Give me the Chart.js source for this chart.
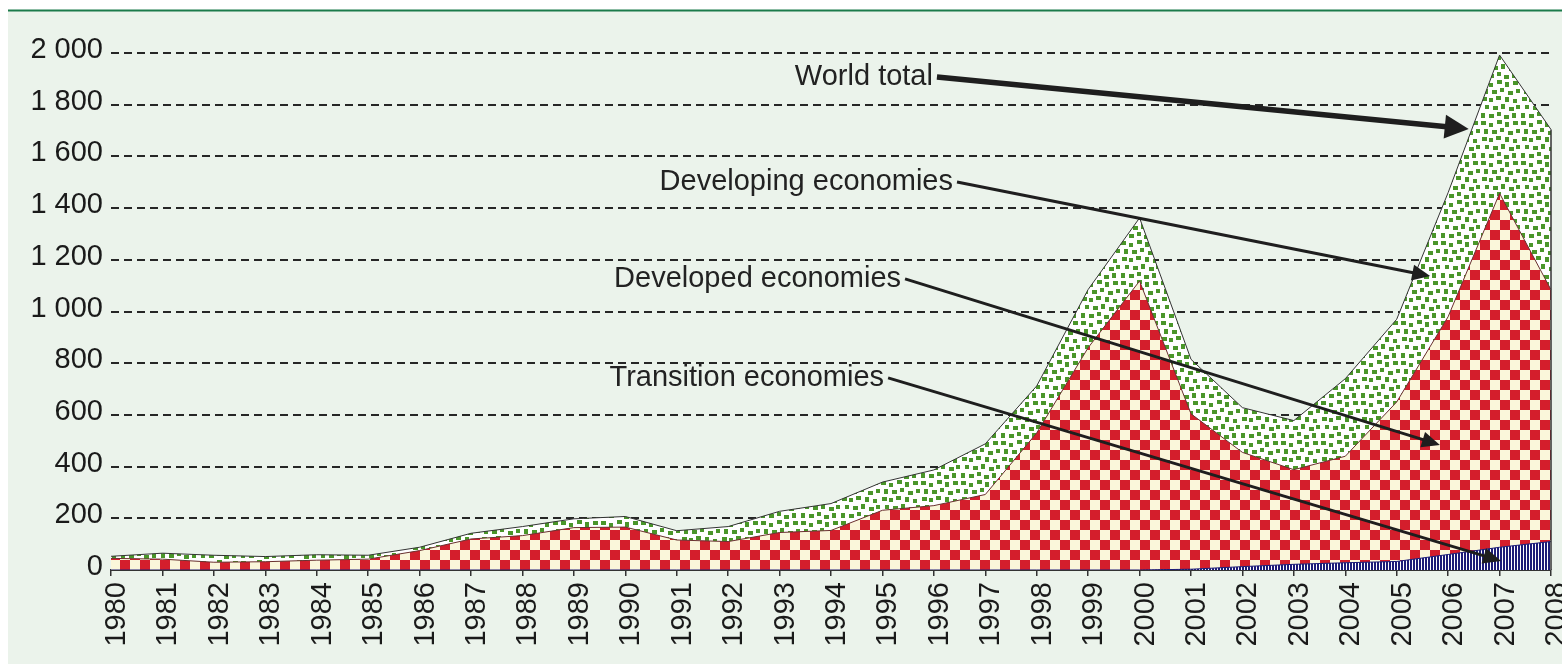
<!DOCTYPE html>
<html><head><meta charset="utf-8">
<script src="https://cdn.jsdelivr.net/npm/chart.js@4/dist/chart.umd.min.js"></script>
<style>html,body{margin:0;padding:0;background:#fff;}#wrap{width:1562px;height:664px;position:relative}</style>
</head><body><div id="wrap"><canvas id="c" width="1562" height="664"></canvas></div>
<script>
const years = ['1980','1981','1982','1983','1984','1985','1986','1987','1988','1989','1990','1991','1992','1993','1994','1995','1996','1997','1998','1999','2000','2001','2002','2003','2004','2005','2006','2007','2008'];
const transition = [0,0,0,0,0,0,0,0,0,0,0,0,0,0,0,0,0,0,0,0,0,3,13,22,28,33,60,88,110];
const developed  = [45,42,30,32,38,42,75,120,133,164,166,116,110,145,153,231,249,292,530,860,1118,601,442,366,412,617,920,1369,974];
const developing = [8,23,27,20,21,15,13,22,35,34,41,36,58,82,104,109,138,196,182,225,244,211,173,190,300,320,480,535,620];
const seriesNames = ['Transition economies','Developed economies','Developing economies'];

const annotationLabels = ['World total','Developing economies','Developed economies','Transition economies'];
const annotationFrom = [[16.06,1907],[16.45,1501],[15.44,1126],[15.11,743]];
const annotationTo   = [[26.40,1706],[25.65,1137],[25.84,484],[27.03,35]];

function makeTile(w,h,draw){const c=document.createElement('canvas');c.width=w;c.height=h;draw(c.getContext('2d'));return c;}
const ctx0 = document.getElementById('c').getContext('2d');
const checker = ctx0.createPattern(makeTile(20,20,g=>{g.fillStyle='#FAF6DA';g.fillRect(0,0,20,20);g.fillStyle='#D41E2C';g.fillRect(0,0,10,10);g.fillRect(10,10,10,10);}),'repeat');
const dots = [
  [1,1,5,4],[9,3,4,4],[17,0,5,4],[25,2,4,5],[33,1,5,4],
  [4,9,4,5],[12,10,5,4],[20,8,4,4],[28,11,5,4],[36,9,4,4],
  [2,17,5,4],[9,18,4,4],[16,16,5,4],[25,17,4,5],[33,19,4,4],
  [5,25,4,4],[13,26,5,4],[21,24,4,5],[29,27,5,4],[36,25,4,4],
  [1,33,4,5],[9,34,5,4],[17,32,4,4],[24,35,5,4],[32,33,4,5]
];
const confetti = ctx0.createPattern(makeTile(40,40,g=>{g.fillStyle='#FFFFFF';g.fillRect(0,0,40,40);g.fillStyle='#4A962A';dots.forEach(d=>g.fillRect(d[0],d[1],d[2],d[3]));}),'repeat');
const stripes = ctx0.createPattern(makeTile(3,4,g=>{g.fillStyle='#FFFFFF';g.fillRect(0,0,3,4);g.fillStyle='#1C1C78';g.fillRect(0,0,2,4);}),'repeat');

const bgPlugin = {
  id:'bg',
  beforeDraw(chart){
    const c=chart.ctx; c.save();
    c.fillStyle='#FFFFFF'; c.fillRect(0,0,chart.width,chart.height);
    c.fillStyle='#EBF3EB'; c.fillRect(8,11,chart.width-8,chart.height-11);
    c.strokeStyle='#1B7A4A'; c.lineWidth=2; c.beginPath(); c.moveTo(8,10.5); c.lineTo(chart.width,10.5); c.stroke();
    c.restore();
  },
  afterDatasetsDraw(chart){
    const c=chart.ctx; const xs=chart.scales.x, ys=chart.scales.y;
    c.save();
    const meta=chart.getDatasetMeta(2); const last=meta.data[meta.data.length-1];
    c.strokeStyle='#333'; c.lineWidth=1.5; c.beginPath(); c.moveTo(last.x,last.y); c.lineTo(last.x,ys.getPixelForValue(0)); c.stroke();
    c.font='29px "Liberation Sans", Arial, sans-serif'; c.textAlign='right'; c.textBaseline='middle';
    annotationLabels.forEach((t,i)=>{
      const x1=xs.getPixelForValue(annotationFrom[i][0]), y1=ys.getPixelForValue(annotationFrom[i][1]);
      const x2=xs.getPixelForValue(annotationTo[i][0]), y2=ys.getPixelForValue(annotationTo[i][1]);
      const big = i===0;
      const w = big?5.5:3, hl = big?24:18, hh = big?12:8;
      c.fillStyle='#222';
      c.fillText(t, x1-4, y1);
      const a=Math.atan2(y2-y1,x2-x1), bx=x2-hl*Math.cos(a), by=y2-hl*Math.sin(a);
      c.strokeStyle='#1E1E1E'; c.fillStyle='#1E1E1E'; c.lineWidth=w; c.lineCap='butt';
      c.beginPath(); c.moveTo(x1,y1); c.lineTo(bx+2*Math.cos(a),by+2*Math.sin(a)); c.stroke();
      c.beginPath(); c.moveTo(x2,y2); c.lineTo(bx+hh*Math.sin(a),by-hh*Math.cos(a)); c.lineTo(bx-hh*Math.sin(a),by+hh*Math.cos(a)); c.closePath(); c.fill();
    });
    c.restore();
  }
};

const tickFont = {family:'"Liberation Sans", Arial, sans-serif', size:29};
new Chart(document.getElementById('c'), {
  type:'line',
  data:{labels:years, datasets:[
    {label:seriesNames[0], data:transition, fill:'origin', backgroundColor:stripes, borderColor:'#1C1C78', borderWidth:1, pointRadius:0, tension:0},
    {label:seriesNames[1], data:developed, fill:'-1', backgroundColor:checker, borderColor:'#6a3030', borderWidth:1, pointRadius:0, tension:0},
    {label:seriesNames[2], data:developing, fill:'-1', backgroundColor:confetti, borderColor:'#333', borderWidth:1, pointRadius:0, tension:0}
  ]},
  options:{
    responsive:false, animation:false, devicePixelRatio:1,
    layout:{autoPadding:false, padding:{left:0,top:53,right:11,bottom:0}},
    plugins:{legend:{display:false}, tooltip:{enabled:false}},
    scales:{
      x:{offset:false, stacked:true,
        grid:{drawOnChartArea:false, drawTicks:true, tickLength:6, color:'#333', lineWidth:1.5},
        border:{display:true, color:'#333', width:2},
        ticks:{autoSkip:false, maxRotation:90, minRotation:90, font:tickFont, color:'#1a1a1a', padding:6, labelOffset:6},
        afterFit(s){s.height=94; s.paddingLeft=0; s.paddingRight=0;}
      },
      y:{stacked:true, min:0, max:2000,
        grid:{color:'#262626', lineWidth:2, drawTicks:false},
        border:{display:false, dash:[8,5]},
        ticks:{stepSize:200, font:tickFont, color:'#1a1a1a', padding:8, labelOffset:-3,
          callback:v=>String(v).replace(/\B(?=(\d{3})+(?!\d))/g,' ')},
        afterFit(s){s.width=111; s.paddingTop=0; s.paddingBottom=0;}
      }
    }
  },
  plugins:[bgPlugin]
});
</script></body></html>
